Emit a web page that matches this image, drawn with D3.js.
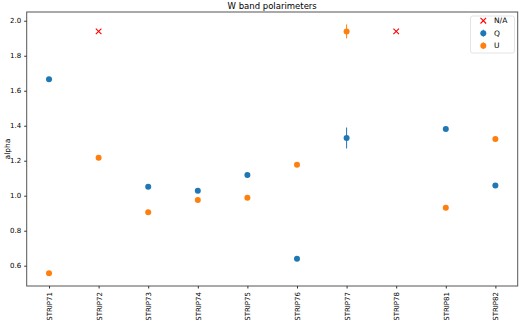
<!DOCTYPE html>
<html>
<head>
<meta charset="utf-8">
<script src="https://cdn.jsdelivr.net/npm/d3@7"></script>
<style>
  body { margin: 0; background: #fff; }
  text { font-family: "DejaVu Sans", sans-serif; fill: #000; }
</style>
</head>
<body>
<svg width="523" height="320"></svg>
<script>
var svg = d3.select("svg"),
    width = +svg.attr("width"),
    height = +svg.attr("height");

var strips = ["STRIP71", "STRIP72", "STRIP73", "STRIP74", "STRIP75",
              "STRIP76", "STRIP77", "STRIP78", "STRIP81", "STRIP82"];

// null where no measurement
var qValues = [1.665, null, 1.051, 1.029, 1.118, 0.640, 1.330, null, 1.381, 1.059];
var qErrors = [0.005, null, 0.005, 0.005, 0.005, 0.005, 0.060, null, 0.005, 0.005];
var uValues = [0.557, 1.217, 0.905, 0.975, 0.989, 1.177, 1.939, null, 0.931, 1.324];
var uErrors = [0.005, 0.005, 0.005, 0.005, 0.005, 0.005, 0.040, null, 0.005, 0.005];
var naValues = [null, 1.939, null, null, null, null, null, 1.939, null, null];

var yTicks = [0.6, 0.8, 1.0, 1.2, 1.4, 1.6, 1.8, 2.0];

var blue = "#1f77b4", orange = "#ff7f0e";

var margin = {left: 26.7, right: 5.3, top: 12, bottom: 34};

var x = d3.scaleLinear()
    .domain([-0.45, strips.length - 1 + 0.45])
    .range([margin.left, width - margin.right]);

var y = d3.scaleLinear()
    .domain([0.484, 2.05])
    .range([height - margin.bottom, margin.top]);

// frame
svg.append("rect")
    .attr("x", x.range()[0])
    .attr("y", y.range()[1])
    .attr("width", x.range()[1] - x.range()[0])
    .attr("height", y.range()[0] - y.range()[1])
    .attr("fill", "none")
    .attr("stroke", "#555")
    .attr("stroke-width", 1);

var yAxis = svg.append("g")
    .attr("transform", "translate(" + margin.left + ",0)")
    .call(d3.axisLeft(y).tickValues(yTicks).tickFormat(d3.format(".1f")).tickSize(2.5).tickPadding(3));
yAxis.select(".domain").remove();
yAxis.selectAll("line").attr("stroke", "#333");
yAxis.selectAll("text").style("font-size", "7px").style("font-family", "DejaVu Sans").attr("fill", "#222");

var xAxis = svg.append("g")
    .attr("transform", "translate(0," + (height - margin.bottom) + ")")
    .call(d3.axisBottom(x).tickValues(d3.range(strips.length))
      .tickFormat(function(i) { return strips[i]; }).tickSize(2.5).tickPadding(3));
xAxis.select(".domain").remove();
xAxis.selectAll("line").attr("stroke", "#333");
xAxis.selectAll("text")
    .style("font-size", "7px").style("font-family", "DejaVu Sans").attr("fill", "#222")
    .attr("text-anchor", "end")
    .attr("dy", "0.35em")
    .attr("transform", "translate(0,6) rotate(-90)")
    .attr("x", 0).attr("y", 0);

svg.append("text")
    .attr("x", (x.range()[0] + x.range()[1]) / 2)
    .attr("y", 9)
    .attr("text-anchor", "middle")
    .style("font-size", "8.5px")
    .text("W band polarimeters");

svg.append("text")
    .attr("transform", "translate(10," + ((y.range()[0] + y.range()[1]) / 2) + ") rotate(-90)")
    .attr("text-anchor", "middle")
    .style("font-size", "7.5px")
    .text("alpha");

function drawSeries(values, errors, color) {
  var pts = values.map(function(v, i) { return {i: i, v: v, e: errors[i]}; })
      .filter(function(d) { return d.v != null; });
  var g = svg.append("g");
  g.selectAll("line").data(pts).enter().append("line")
      .attr("x1", function(d) { return x(d.i); })
      .attr("x2", function(d) { return x(d.i); })
      .attr("y1", function(d) { return y(d.v - d.e); })
      .attr("y2", function(d) { return y(d.v + d.e); })
      .attr("stroke", color)
      .attr("stroke-width", 1);
  g.selectAll("circle").data(pts).enter().append("circle")
      .attr("cx", function(d) { return x(d.i); })
      .attr("cy", function(d) { return y(d.v); })
      .attr("r", 3)
      .attr("fill", color);
}

drawSeries(qValues, qErrors, blue);
drawSeries(uValues, uErrors, orange);

function cross(g, cx, cy, s) {
  g.append("path")
      .attr("d", "M" + (cx - s) + "," + (cy - s) + "L" + (cx + s) + "," + (cy + s) +
                 "M" + (cx - s) + "," + (cy + s) + "L" + (cx + s) + "," + (cy - s))
      .attr("stroke", "red")
      .attr("stroke-width", 1.1)
      .attr("fill", "none");
}

var naG = svg.append("g");
naValues.forEach(function(v, i) {
  if (v != null) cross(naG, x(i), y(v), 2.8);
});

// legend
var legend = svg.append("g");
legend.append("rect")
    .attr("x", 470.5).attr("y", 16)
    .attr("width", 44).attr("height", 37)
    .attr("rx", 2)
    .attr("fill", "#fff")
    .attr("stroke", "#ddd")
    .attr("stroke-width", 0.8);

var legendItems = [
  {label: "N/A", color: "red", type: "x"},
  {label: "Q", color: blue, type: "o"},
  {label: "U", color: orange, type: "o"}
];
legendItems.forEach(function(d, k) {
  var ly = 20.7 + k * 12.5, lx = 483.3;
  if (d.type === "x") {
    cross(legend, lx, ly, 2.8);
  } else {
    legend.append("line")
        .attr("x1", lx).attr("x2", lx)
        .attr("y1", ly - 3.5).attr("y2", ly + 3.5)
        .attr("stroke", d.color).attr("stroke-width", 1);
    legend.append("circle")
        .attr("cx", lx).attr("cy", ly).attr("r", 3)
        .attr("fill", d.color);
  }
  legend.append("text")
      .attr("x", 494).attr("y", ly)
      .attr("dy", "0.35em")
      .style("font-size", "7.5px")
      .text(d.label);
});
</script>
</body>
</html>
